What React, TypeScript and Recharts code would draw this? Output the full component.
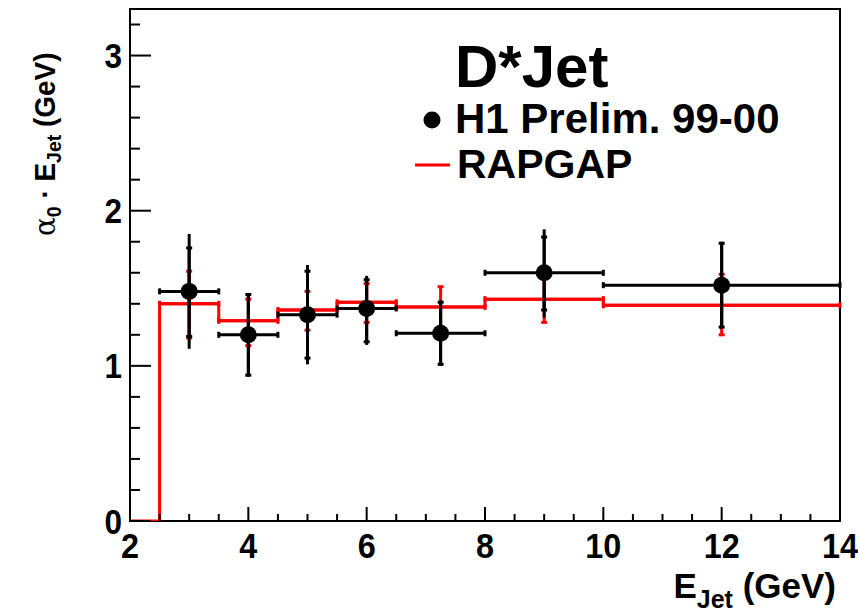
import React from 'react';
import {
  ComposedChart,
  Line,
  Scatter,
  ErrorBar,
  XAxis,
  YAxis,
  ReferenceArea,
} from 'recharts';

// H1 data points
const xCenters = [3, 4, 5, 6, 7.25, 9, 12];
const xLow = [2.5, 3.5, 4.5, 5.5, 6.5, 8, 10];
const xHigh = [3.5, 4.5, 5.5, 6.5, 8, 10, 14];
const dataY = [1.48, 1.2, 1.33, 1.37, 1.21, 1.6, 1.52];
const statLow = [1.19, 0.94, 1.05, 1.155, 1.01, 1.36, 1.25];
const statHigh = [1.76, 1.46, 1.61, 1.555, 1.41, 1.83, 1.79];
const totLow = [1.11, 0.93, 1.01, 1.135, 1.0, 1.31, 1.24];
const totHigh = [1.85, 1.47, 1.65, 1.58, 1.42, 1.88, 1.8];

// RAPGAP histogram
const rapEdges = [2, 2.5, 3.5, 4.5, 5.5, 6.5, 8, 10, 14];
const rapStep = [0, 1.4, 1.29, 1.36, 1.41, 1.38, 1.43, 1.39, 1.39];
const rapY = [1.4, 1.29, 1.36, 1.41, 1.38, 1.43, 1.39];
const rapLow = [1.18, 1.13, 1.23, 1.28, 1.25, 1.28, 1.2];
const rapHigh = [1.61, 1.43, 1.48, 1.53, 1.51, 1.57, 1.59];

const xTicks = [2, 2.5, 3, 3.5, 4, 4.5, 5, 5.5, 6, 6.5, 7, 7.5, 8, 8.5, 9, 9.5, 10, 10.5, 11, 11.5, 12, 12.5, 13, 13.5, 14];
const yTicks = [0, 0.2, 0.4, 0.6, 0.8, 1, 1.2, 1.4, 1.6, 1.8, 2, 2.2, 2.4, 2.6, 2.8, 3, 3.2];

const FONT = '"Liberation Sans", Arial, Helvetica, sans-serif';

const points = xCenters.map((x, i) => ({
  x,
  y: dataY[i],
  ex: [x - xLow[i], xHigh[i] - x],
  eStat: [dataY[i] - statLow[i], statHigh[i] - dataY[i]],
  eTot: [dataY[i] - totLow[i], totHigh[i] - dataY[i]],
}));

const rapPoints = xCenters.map((x, i) => ({
  x,
  y: rapY[i],
  ex: [x - xLow[i], xHigh[i] - x],
  ey: [rapY[i] - rapLow[i], rapHigh[i] - rapY[i]],
}));

const stepData = rapEdges.map((x, i) => ({ x, y: rapStep[i] }));

const isInt = (v: number, step: number) => Math.abs(v / step - Math.round(v / step)) < 1e-6;

const XTick = (props: any) => {
  const { x, y, payload } = props;
  const major = isInt(payload.value, 2);
  return (
    <g>
      <line x1={x} x2={x} y1={y} y2={y - (major ? 14 : 7)} stroke="#000" strokeWidth={2} />
      {major && (
        <text
          transform={`translate(${x},${y + 37}) scale(0.9,1)`}
          textAnchor="middle"
          fontFamily={FONT}
          fontWeight="bold"
          fontSize={36}
          fill="#000"
        >
          {payload.value}
        </text>
      )}
    </g>
  );
};

const YTick = (props: any) => {
  const { x, y, payload } = props;
  const major = isInt(payload.value, 1);
  return (
    <g>
      <line x1={x} x2={x + (major ? 21 : 10)} y1={y} y2={y} stroke="#000" strokeWidth={2} />
      {major && (
        <text
          transform={`translate(${x - 8},${y + 12.5}) scale(0.9,1)`}
          textAnchor="end"
          fontFamily={FONT}
          fontWeight="bold"
          fontSize={35}
          fill="#000"
        >
          {payload.value}
        </text>
      )}
    </g>
  );
};

const Dot = (p: any) => <circle cx={p.cx} cy={p.cy} r={8.5} fill="#000" />;
const NoDot = () => <g />;

export default function App() {
  return (
    <div style={{ position: 'absolute', left: 0, top: 0, width: 858, height: 615, background: '#fff' }}>
      <ComposedChart width={858} height={615} margin={{ top: 9, right: 18, bottom: 0, left: 0 }}>
        <XAxis
          type="number"
          dataKey="x"
          domain={[2, 14]}
          ticks={xTicks}
          interval={0}
          allowDataOverflow
          axisLine={false}
          tickLine={false}
          tickSize={0}
          tickMargin={0}
          height={94}
          tick={<XTick />}
        />
        <YAxis
          type="number"
          dataKey="y"
          domain={[0, 3.3]}
          ticks={yTicks}
          interval={0}
          allowDataOverflow
          axisLine={false}
          tickLine={false}
          tickSize={0}
          tickMargin={0}
          width={130}
          tick={<YTick />}
        />
        <Scatter data={rapPoints} dataKey="y" shape={<NoDot />} isAnimationActive={false}>
          <ErrorBar dataKey="ey" direction="y" width={3} stroke="#ff0000" strokeWidth={3} />
          <ErrorBar dataKey="ex" direction="x" width={3} stroke="#ff0000" strokeWidth={3} />
        </Scatter>
        <Line
          data={stepData}
          dataKey="y"
          type="stepAfter"
          stroke="#ff0000"
          strokeWidth={3}
          dot={false}
          activeDot={false}
          isAnimationActive={false}
        />
        <Scatter data={points} dataKey="y" shape={<Dot />} isAnimationActive={false}>
          <ErrorBar dataKey="eTot" direction="y" width={0} stroke="#000" strokeWidth={3} />
          <ErrorBar dataKey="eStat" direction="y" width={3} stroke="#000" strokeWidth={3} />
          <ErrorBar dataKey="ex" direction="x" width={3} stroke="#000" strokeWidth={3} />
        </Scatter>
        <ReferenceArea x1={2} x2={14} y1={0} y2={3.3} fill="none" fillOpacity={0} stroke="#000" strokeWidth={2} ifOverflow="visible" />
      </ComposedChart>
      <svg
        width={858}
        height={615}
        style={{ position: 'absolute', left: 0, top: 0, pointerEvents: 'none' }}
        fontFamily={FONT}
        fontWeight="bold"
      >
        <text x={455} y={87} fontSize={60} fill="#000">D*Jet</text>
        <circle cx={432} cy={120} r={8.5} fill="#000" />
        <text x={455} y={133} fontSize={42} fill="#000">H1 Prelim. 99-00</text>
        <line x1={415} x2={450} y1={165} y2={165} stroke="#ff0000" strokeWidth={3} />
        <text x={457} y={178} fontSize={41} fill="#000">RAPGAP</text>

        <text x={836} y={598} textAnchor="end" fontSize={35} fill="#000">
          E<tspan fontSize={25} dy={10}>Jet</tspan>
          <tspan dy={-10}> (GeV)</tspan>
        </text>

        <text transform="translate(55,236) rotate(-90) scale(0.93,1)" fontSize={30} fill="#000">
          <tspan fontWeight="normal" fontFamily='"DejaVu Serif", serif'>α</tspan>
          <tspan fontSize={21} dy={6}>0</tspan>
          <tspan dy={-6}> · E</tspan>
          <tspan fontSize={21} dy={6}>Jet</tspan>
          <tspan dy={-6}> (GeV)</tspan>
        </text>
      </svg>
    </div>
  );
}
